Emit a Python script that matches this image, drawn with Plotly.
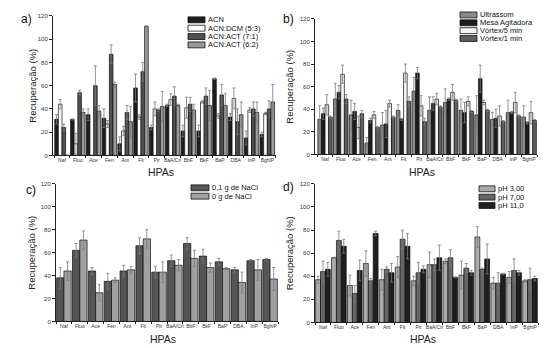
import plotly.graph_objects as go

cats = ["Naf", "Fluo", "Ace", "Fen", "Ant", "Flt", "Pir", "BaA/Cri", "BbF", "BkF", "BaP", "DBA", "InP", "BghiP"]
y_ticks = [0, 20, 40, 60, 80, 100, 120]

# Panel a
a_names = ["ACN", "ACN:DCM (5:3)", "ACN:ACT (7:1)", "ACN:ACT (6:2)"]
a_acn = [31, 31, 35, 32, 10, 58, 24, 43, 21, 21, 66, 33, 15, 18]
a_acn_err = [4, 0.5, 5, 8, 6, 12, 2, 1, 5, 5, 0.5, 3, 6, 2]
a_dcm = [44, 10, 0, 27, 21, 33, 40, 48, 41, 46, 34, 49, 39, 36]
a_dcm_err = [4, 9, 0, 3, 4, 2, 6, 5, 9, 1, 2, 9, 2, 1]
a_act71 = [24, 54, 60, 87, 37, 72, 39, 51, 44, 51, 52, 29, 40, 40]
a_act71_err = [3, 2, 17, 8, 6, 8, 1, 8, 6, 7, 9, 11, 6, 7]
a_act62 = [0, 37, 38, 61, 29, 111, 42, 43, 39, 43, 43, 35, 37, 46]
a_act62_err = [0, 3, 5, 2, 13, 0.5, 13, 1, 5, 13, 10, 11, 9, 15]

# Panel b
b_names = ["Ultrassom", "Mesa Agitadora", "Vórtex/5 min", "Vórtex/1 min"]
b_ultra = [31, 49, 35, 10, 26, 39, 56, 39, 46, 39, 35, 31, 37, 33]
b_ultra_err = [12, 14, 13, 5, 11, 5, 12, 12, 12, 10, 17, 6, 11, 10]
b_mesa = [36, 55, 38, 30, 27, 31, 72, 45, 49, 37, 67, 32, 37, 28]
b_mesa_err = [5, 6, 7, 2, 12, 1, 5, 6, 1, 9, 12, 8, 1, 1]
b_v5 = [44, 71, 24, 35, 45, 72, 43, 49, 55, 47, 46, 34, 46, 37]
b_v5_err = [9, 8, 10, 3, 3, 8, 9, 5, 7, 4, 2, 9, 9, 10]
b_v1 = [33, 49, 36, 24, 33, 47, 29, 42, 48, 38, 39, 29, 34, 30]
b_v1_err = [1, 4, 3, 0.5, 1, 4, 3, 1, 1, 1, 1, 1, 1, 1]

# Panel c
c_names = ["0,1 g de NaCl", "0 g de NaCl"]
c_nacl01 = [38, 62, 44, 35, 44, 66, 43, 53, 68, 57, 52, 45, 53, 54]
c_nacl01_err = [9, 6, 3, 7, 5, 7, 5, 5, 5, 6, 3, 2, 1, 1]
c_nacl0 = [44, 71, 25, 36, 45, 72, 43, 49, 55, 47, 46, 34, 45, 37]
c_nacl0_err = [8, 8, 7, 2, 3, 8, 9, 5, 7, 4, 1, 9, 9, 10]

# Panel d
d_names = ["pH 3,00", "pH 7,00", "pH 11,0"]
d_ph3 = [37, 56, 32, 51, 37, 48, 36, 50, 53, 41, 74, 34, 39, 36]
d_ph3_err = [3, 0.5, 9, 11, 9, 9, 4, 11, 2, 12, 9, 5, 5, 1]
d_ph7 = [44, 71, 25, 36, 46, 72, 43, 50, 56, 47, 46, 34, 45, 37]
d_ph7_err = [9, 8, 7, 2, 2, 8, 9, 5, 7, 4, 1, 9, 10, 10]
d_ph11 = [46, 66, 45, 77, 43, 66, 46, 56, 39, 43, 55, 42, 43, 38]
d_ph11_err = [6, 6, 9, 2, 8, 11, 3, 11, 0.5, 2, 13, 0.5, 2, 2]

# page has an 8px body margin: the figure is drawn 8px right and down
OFF = 8
W, H = 550 - OFF, 348 - OFF
FONT = "Liberation Sans, Arial, sans-serif"


def px(x):
    return (x - OFF) / W


def py(y):
    return 1 - (y - OFF) / H


panels = [
    dict(ax="", names=a_names,
         vals=[a_acn, a_dcm, a_act71, a_act62],
         errs=[a_acn_err, a_dcm_err, a_act71_err, a_act62_err],
         colors=["#1e1e1e", "#ffffff", "#4f4f4f", "#9a9a9a"],
         xpx=(53, 276), ypx=(155, 13), xr=(-0.57, 13.55),
         label="a)", lab_xy=(26, 16), ytitle_x=33, xtitle_y=172,
         leg=dict(x=188, y0=17, dy=8.5, sw=17, sh=6)),
    dict(ax="2", names=b_names,
         vals=[b_ultra, b_mesa, b_v5, b_v1],
         errs=[b_ultra_err, b_mesa_err, b_v5_err, b_v1_err],
         colors=["#8c8c8c", "#1e1e1e", "#f4f4f4", "#5e5e5e"],
         xpx=(315, 537), ypx=(154, 16), xr=(-0.64, 13.5),
         label="b)", lab_xy=(288, 16), ytitle_x=290, xtitle_y=172,
         leg=dict(x=460, y0=12, dy=8, sw=17, sh=6)),
    dict(ax="3", names=c_names,
         vals=[c_nacl01, c_nacl0],
         errs=[c_nacl01_err, c_nacl0_err],
         colors=["#555555", "#a0a0a0"],
         xpx=(56, 278), ypx=(324, 184), xr=(-0.5, 13.5),
         label="c)", lab_xy=(31, 190), ytitle_x=32, xtitle_y=342,
         leg=dict(x=191, y0=188, dy=8.5, sw=18, sh=6)),
    dict(ax="4", names=d_names,
         vals=[d_ph3, d_ph7, d_ph11],
         errs=[d_ph3_err, d_ph7_err, d_ph11_err],
         colors=["#ababab", "#666666", "#1e1e1e"],
         xpx=(315, 538), ypx=(325, 184), xr=(-0.5, 13.5),
         label="d)", lab_xy=(288, 187), ytitle_x=289, xtitle_y=342,
         leg=dict(x=479, y0=189, dy=8.5, sw=16, sh=6)),
]

fig = go.Figure()
shapes = []
annotations = []

for p in panels:
    xa = "x" + p["ax"]
    ya = "y" + p["ax"]
    for name, v, e, c in zip(p["names"], p["vals"], p["errs"], p["colors"]):
        fig.add_trace(go.Bar(
            x=cats, y=v, name=name, xaxis=xa, yaxis=ya, showlegend=False,
            marker=dict(color=c, line=dict(color="#111111", width=0.7)),
            error_y=dict(type="data", array=e, symmetric=True,
                         color="#7a7a7a", thickness=0.8, width=1.5),
        ))
    x0, x1 = p["xpx"]
    yb, yt = p["ypx"]
    xkey = "xaxis" + p["ax"]
    ykey = "yaxis" + p["ax"]
    fig.update_layout({
        xkey: dict(domain=[px(x0), px(x1)], anchor=ya, type="category",
                   range=list(p["xr"]), showline=True, linecolor="#222",
                   linewidth=1, ticks="outside", ticklen=2, tickcolor="#222",
                   tickson="boundaries", showticklabels=True,
                   ticklabeloverflow="allow",
                   tickfont=dict(size=5, color="#333", family=FONT),
                   showgrid=False, zeroline=False, tickangle=0),
        ykey: dict(domain=[py(yb), py(yt)], anchor=xa,
                   range=[0, 120], tickmode="array", tickvals=y_ticks,
                   ticktext=[str(t) for t in y_ticks], showticklabels=True,
                   ticklabeloverflow="allow", side="left",
                   showline=True, linecolor="#222",
                   linewidth=1, ticks="outside", ticklen=3, tickcolor="#222",
                   tickfont=dict(size=6, color="#333", family=FONT),
                   showgrid=False, zeroline=False),
    })
    # panel label
    annotations.append(dict(text=p["label"], x=px(p["lab_xy"][0]),
                            y=py(p["lab_xy"][1]), xref="paper", yref="paper",
                            showarrow=False, xanchor="center", yanchor="middle",
                            font=dict(size=12, color="#111", family=FONT)))
    # y title
    annotations.append(dict(text="Recuperação (%)", x=px(p["ytitle_x"]),
                            y=py((yb + yt) / 2), xref="paper", yref="paper",
                            showarrow=False, textangle=-90, xanchor="center",
                            yanchor="middle",
                            font=dict(size=9.5, color="#222", family=FONT)))
    # x title
    annotations.append(dict(text="HPAs", x=px((x0 + x1) / 2 - 4),
                            y=py(p["xtitle_y"]), xref="paper", yref="paper",
                            showarrow=False, xanchor="center", yanchor="middle",
                            borderpad=0,
                            font=dict(size=10.5, color="#222", family=FONT)))
    # legend
    lg = p["leg"]
    for i, (name, c) in enumerate(zip(p["names"], p["colors"])):
        cy = lg["y0"] + i * lg["dy"]
        shapes.append(dict(type="rect", xref="paper", yref="paper",
                           x0=px(lg["x"]), x1=px(lg["x"] + lg["sw"]),
                           y0=py(cy - lg["sh"] / 2),
                           y1=py(cy + lg["sh"] / 2),
                           fillcolor=c, line=dict(color="#111", width=0.8)))
        annotations.append(dict(text=name, x=px(lg["x"] + lg["sw"] + 2),
                                y=py(cy), xref="paper", yref="paper",
                                showarrow=False, xanchor="left", yanchor="middle",
                                borderpad=0,
                                font=dict(size=7.5, color="#111", family=FONT)))

fig.update_layout(
    width=W, height=H, margin=dict(l=0, r=0, t=0, b=0),
    paper_bgcolor="white", plot_bgcolor="white",
    barmode="group", bargap=0.08, bargroupgap=0,
    showlegend=False, shapes=shapes, annotations=annotations,
    font=dict(family=FONT),
)

fig.write_html("out.html")
